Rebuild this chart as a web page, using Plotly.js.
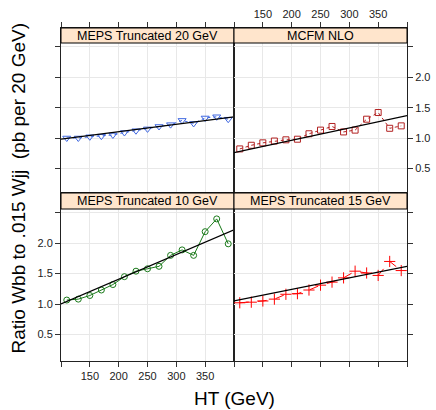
<!DOCTYPE html>
<html>
<head>
<meta charset="utf-8">
<script src="https://cdn.plot.ly/plotly-3.0.1.min.js"></script>
<style>html,body{margin:0;padding:0;background:#fff;}#chart{width:436px;height:410px;}</style>
</head>
<body>
<div id="chart"></div>
<script>
// ---- data ----
const ht = [110,130,150,170,190,210,230,250,270,290,310,330,350,370,390];
const meps20 = [1.00,1.00,1.02,1.03,1.05,1.09,1.12,1.15,1.19,1.22,1.29,1.24,1.33,1.35,1.31];
const mcfm   = [0.82,0.88,0.92,0.95,0.97,0.98,1.07,1.13,1.19,1.10,1.13,1.31,1.42,1.16,1.20];
const meps10 = [1.065,1.08,1.14,1.23,1.32,1.45,1.54,1.58,1.62,1.80,1.89,1.80,2.19,2.40,1.99];
const meps15 = [1.02,1.03,1.05,1.08,1.16,1.17,1.23,1.31,1.36,1.43,1.54,1.51,1.47,1.70,1.55];
const fitX = [100,400];
const fit20 = [0.98,1.35];
const fitMcfm = [0.76,1.37];
const fit10 = [1.00,2.22];
const fit15 = [1.05,1.62];
const panelNames = ["MEPS Truncated 20 GeV","MCFM NLO","MEPS Truncated 10 GeV","MEPS Truncated 15 GeV"];
const xTickVals = [100,150,200,250,300,350,400];
const xTickText = ["","150","200","250","300","350",""];
const yTickVals = [0.5,1.0,1.5,2.0,2.5];
const yTickText = ["0.5","1.0","1.5","2.0",""];

const FONT = "Liberation Sans, Arial, Helvetica, sans-serif";
const W = 436, H = 410, L = 61, R = 29, T = 28, B = 49;
const PW = W - L - R, PH = H - T - B;
const py = p => (H - B - p) / PH;   // pixel y -> paper
const px = p => (p - L) / PW;       // pixel x -> paper

function pts(xa, ya, y, sym, col, dash, size) {
  return {x: ht, y: y, xaxis: xa, yaxis: ya, type: 'scatter', mode: 'lines+markers',
    line: {color: col, width: 1, dash: dash},
    marker: {symbol: sym, size: size, color: col, line: {color: col, width: 1}},
    hoverinfo: 'skip'};
}
function fit(xa, ya, y) {
  return {x: fitX, y: y, xaxis: xa, yaxis: ya, type: 'scatter', mode: 'lines',
    line: {color: '#000', width: 1.25}, hoverinfo: 'skip'};
}

const data = [
  pts('x','y', meps20, 'triangle-down-open', '#4169e1', 'dot', 7),
  fit('x','y', fit20),
  pts('x2','y2', mcfm, 'square-open', '#b22222', 'dot', 6),
  fit('x2','y2', fitMcfm),
  pts('x3','y3', meps10, 'circle-open', '#1a7a1a', 'solid', 6),
  fit('x3','y3', fit10),
  pts('x4','y4', meps15, 'cross-thin-open', '#ff0000', 'dash', 8),
  fit('x4','y4', fit15)
];

const topDom = [py(193), 1];
const botDom = [0, py(193)];
const topRange = [0.0935, 2.813];
const botRange = [0.0625, 2.826];

function xax(dom, anchor, side, labels) {
  return {domain: dom, anchor: anchor, side: side, range: [100,400], tickmode: 'array',
    tickvals: xTickVals, ticktext: xTickText, showticklabels: labels,
    ticks: 'outside', ticklen: 5, tickcolor: '#333', tickwidth: 1,
    showline: true, mirror: true, linecolor: '#222', linewidth: 1,
    showgrid: true, gridcolor: '#e8e8e8', gridwidth: 1, zeroline: false,
    tickfont: {family: FONT, size: 11, color: '#222'}, fixedrange: true};
}
function yax(dom, anchor, side, labels, range) {
  return {domain: dom, anchor: anchor, side: side, range: range, tickmode: 'array',
    tickvals: yTickVals, ticktext: yTickText, showticklabels: labels,
    ticks: 'outside', ticklen: 5, tickcolor: '#333', tickwidth: 1,
    showline: true, mirror: true, linecolor: '#222', linewidth: 1,
    showgrid: true, gridcolor: '#e8e8e8', gridwidth: 1, zeroline: false,
    tickfont: {family: FONT, size: 11, color: '#222'}, fixedrange: true};
}

const stripTopY = [py(43), 1];
const stripBotY = [py(209), py(193)];
const strips = [
  {x: [0,0.5], y: stripTopY},
  {x: [0.5,1], y: stripTopY},
  {x: [0,0.5], y: stripBotY},
  {x: [0.5,1], y: stripBotY}
];
const shapes = strips.map(s => ({type: 'rect', xref: 'paper', yref: 'paper',
  x0: s.x[0], x1: s.x[1], y0: s.y[0], y1: s.y[1],
  fillcolor: '#ffe5cc', line: {color: '#000', width: 1}, layer: 'above'}));
const annotations = strips.map((s, i) => ({xref: 'paper', yref: 'paper',
  x: (s.x[0]+s.x[1])/2, y: (s.y[0]+s.y[1])/2, xanchor: 'center', yanchor: 'middle',
  text: panelNames[i], showarrow: false, font: {family: FONT, size: 12.5, color: '#000'}}));
annotations.push({xref: 'paper', yref: 'paper', x: px(234), y: py(398), xanchor: 'center', yanchor: 'middle',
  text: 'HT (GeV)', showarrow: false, font: {family: FONT, size: 19, color: '#000'}});
annotations.push({xref: 'paper', yref: 'paper', x: px(17.5), y: py(188), xanchor: 'center', yanchor: 'middle',
  text: 'Ratio Wbb to .015 Wjj&nbsp;&nbsp;(pb per 20 GeV)', textangle: -90, showarrow: false,
  font: {family: FONT, size: 19, color: '#000'}});

const layout = {
  width: W, height: H, margin: {l: L, r: R, t: T, b: B, pad: 0},
  paper_bgcolor: '#fff', plot_bgcolor: '#fff', showlegend: false,
  font: {family: FONT},
  xaxis:  xax([0,0.5], 'y',  'top',    false),
  yaxis:  yax(topDom, 'x',  'left',   false, topRange),
  xaxis2: xax([0.5,1], 'y2', 'top',    true),
  yaxis2: yax(topDom, 'x2', 'right',  true, topRange),
  xaxis3: xax([0,0.5], 'y3', 'bottom', true),
  yaxis3: yax(botDom, 'x3', 'left',   true, botRange),
  xaxis4: xax([0.5,1], 'y4', 'bottom', false),
  yaxis4: yax(botDom, 'x4', 'right',  false, botRange),
  shapes: shapes, annotations: annotations
};

Plotly.newPlot('chart', data, layout, {staticPlot: true, displayModeBar: false});
</script>
</body>
</html>
